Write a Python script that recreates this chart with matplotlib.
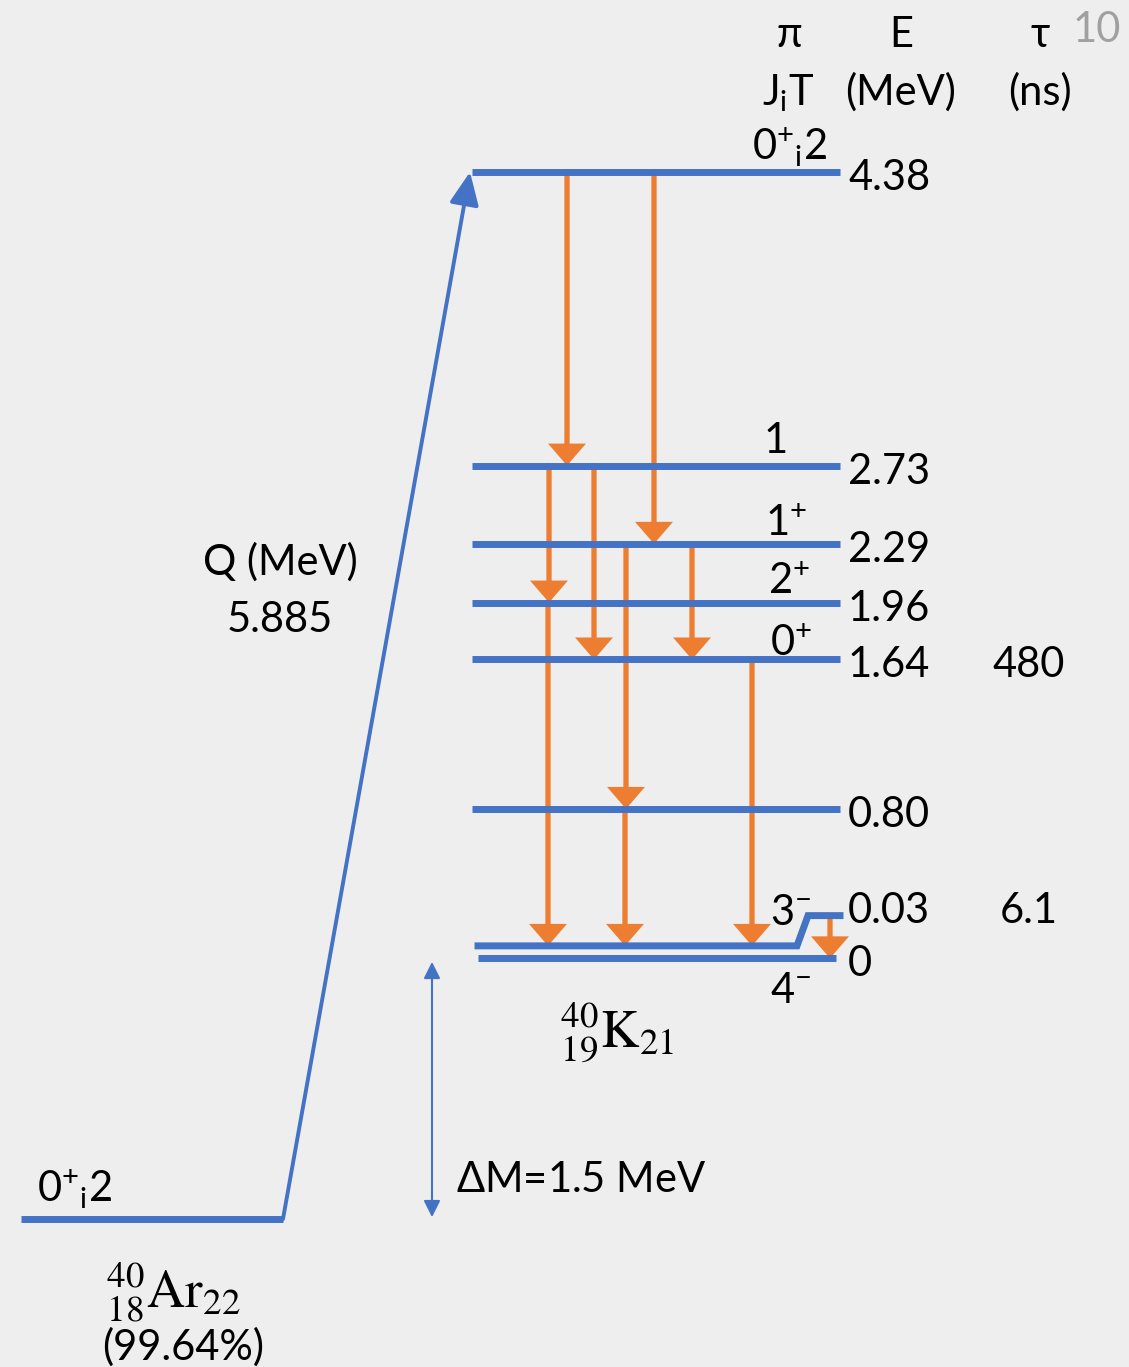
import matplotlib.pyplot as plt
import matplotlib.transforms as mtransforms
from matplotlib.patches import FancyArrowPatch

plt.rcParams['font.family'] = ['Lato', 'DejaVu Sans']
plt.rcParams['mathtext.fontset'] = 'custom'
plt.rcParams['mathtext.rm'] = 'Lato'
plt.rcParams['mathtext.it'] = 'Lato:italic'
plt.rcParams['mathtext.bf'] = 'Lato:bold'

blue = '#4472C4'
orange = '#ED7D31'
bg = '#EEEEEE'

# 40K levels, top to bottom
level_E = [4.38, 2.73, 2.29, 1.96, 1.64, 0.80, 0.03, 0.0]
level_E_text = ['4.38', '2.73', '2.29', '1.96', '1.64', '0.80', '0.03', '0']
level_J = [r'$0^{+}{}_{\mathrm{i}}2$', '1', r'$1^{+}$', r'$2^{+}$', r'$0^{+}$',
           '', r'$3^{-}$', r'$4^{-}$']
level_tau = ['', '', '', '', '480', '', '6.1', '']

Q = 5.885
Q_text = '5.885'
dM_text = r'$\Delta$M=1.5 MeV'
ar_E = level_E[0] - Q          # 40Ar ground state below the 40K ground state
ar_J = r'$0^{+}{}_{\mathrm{i}}2$'

# gamma transitions as (from level, to level)
gammas = [(0, 1), (0, 2), (1, 3), (1, 4), (2, 5), (2, 4),
          (3, 6), (5, 6), (4, 6), (6, 7)]

# layout (pixels)
W, H = 1129, 1367
gamma_x = [567, 654, 549, 594, 626, 692, 548, 625, 752, 830]
J_x = [752, 764, 765, 768, 770, None, 770, 770]
J_dy = [12, 13, 8, 9, 3, 0, 21, -45]
x0, x1 = 472, 840

fig = plt.figure(figsize=(W / 100, H / 100), dpi=100, facecolor=bg)
ax = fig.add_axes([0, 0, 1, 1])
ax.set_facecolor(bg)
ax.set_xlim(0, W)
ax.set_ylim((951.2 - H) / 177.9, 951.2 / 177.9)
ax.axis('off')

# pixel coordinates measured from the top left corner
px = mtransforms.Affine2D().scale(1, -1).translate(0, H)


def drawn_E(i, x=None):
    # separate the two nearly degenerate bottom levels
    if i == 7:
        return level_E[7] - 0.04
    if i == 6 and x is not None and x > 800:
        return level_E[6] + 0.17
    return level_E[i]


lw_level = 5
for i, e in enumerate(level_E):
    if i == 6:
        ax.plot([x0 + 6, 797, 808, x1], [e, e, e + 0.17, e + 0.17],
                color=blue, lw=lw_level, solid_joinstyle='miter', zorder=3)
    elif i == 7:
        ax.plot([x0 + 6, x1 - 4], [drawn_E(7)] * 2, color=blue, lw=lw_level,
                solid_capstyle='butt', zorder=3)
    else:
        ax.plot([x0, x1], [e, e], color=blue, lw=lw_level,
                solid_capstyle='butt', zorder=3)

    # energy, spin and lifetime labels
    ey = drawn_E(i, x1)
    edy = -7 if i == 6 else -18
    ax.annotate(level_E_text[i], (848, ey), xytext=(0, edy),
                textcoords='offset pixels', ha='left', va='baseline',
                fontsize=30)
    if level_tau[i]:
        ax.annotate(level_tau[i], (1029, ey), xytext=(0, edy),
                    textcoords='offset pixels', ha='center', va='baseline',
                    fontsize=30)
    if level_J[i]:
        ax.annotate(level_J[i], (J_x[i], drawn_E(i)), xytext=(0, J_dy[i]),
                    textcoords='offset pixels', ha='left', va='baseline',
                    fontsize=30)

# gamma rays
for (a, b), x in zip(gammas, gamma_x):
    arr = FancyArrowPatch((x, drawn_E(a, x)), (x, drawn_E(b, x)),
                          arrowstyle='-|>,head_length=11,head_width=9.5',
                          color=orange, lw=3.8, shrinkA=0, shrinkB=0,
                          joinstyle='miter', zorder=2)
    ax.add_patch(arr)

# 40Ar ground state and the beta/EC arrow
ax.plot([21, 283], [ar_E, ar_E], color=blue, lw=lw_level,
        solid_capstyle='butt', zorder=3)
ax.add_patch(FancyArrowPatch((283, ar_E), (470, level_E[0]),
                             arrowstyle='-|>,head_length=20,head_width=9',
                             color=blue, lw=2.8, shrinkA=0, shrinkB=0,
                             zorder=3))
ax.annotate(ar_J, (37, ar_E), xytext=(0, 17), textcoords='offset pixels',
            ha='left', va='baseline', fontsize=30)

# mass difference
ax.add_patch(FancyArrowPatch((432, drawn_E(7) - 0.02), (432, ar_E + 0.01),
                             arrowstyle='<|-|>,head_length=10,head_width=5',
                             color=blue, lw=1.5, shrinkA=0, shrinkB=0))
fig.text(456, 1192, dM_text, transform=px, ha='left', va='baseline',
         fontsize=30)

fig.text(280, 575, 'Q (MeV)', transform=px, ha='center', va='baseline',
         fontsize=30)
fig.text(280, 632, Q_text, transform=px, ha='center', va='baseline',
         fontsize=30)

# column headers
fig.text(789, 47, 'π', transform=px, ha='center', va='baseline', fontsize=30)
fig.text(901, 47, 'E', transform=px, ha='center', va='baseline', fontsize=30)
fig.text(1040, 47, 'τ', transform=px, ha='center', va='baseline', fontsize=30)
fig.text(1097, 42, '10', transform=px, ha='center', va='baseline',
         fontsize=30, color='#A0A0A0')
fig.text(788, 105, r'$\mathrm{J_{i}T}$', transform=px, ha='center',
         va='baseline', fontsize=30)
fig.text(901, 105, '(MeV)', transform=px, ha='center', va='baseline',
         fontsize=30)
fig.text(1040, 105, '(ns)', transform=px, ha='center', va='baseline',
         fontsize=30)

# nuclide names
fig.text(617, 1047, r'${}^{40}_{19}\mathrm{K}_{21}$', transform=px,
         ha='center', va='baseline', fontsize=38, math_fontfamily='stix')
fig.text(173, 1307, r'${}^{40}_{18}\mathrm{Ar}_{22}$', transform=px,
         ha='center', va='baseline', fontsize=38, math_fontfamily='stix')
fig.text(183, 1360, '(99.64%)', transform=px, ha='center', va='baseline',
         fontsize=30)

fig.savefig('out.png', dpi=100, facecolor=bg)
